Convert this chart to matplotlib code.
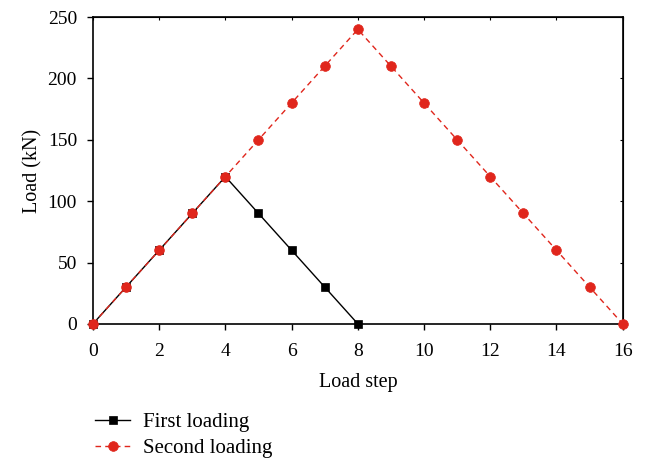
import matplotlib
matplotlib.use("Agg")
import matplotlib.pyplot as plt

plt.rcParams['font.family'] = ['Liberation Serif', 'DejaVu Serif']

steps_first = [0, 1, 2, 3, 4, 5, 6, 7, 8]
load_first = [0, 30, 60, 90, 120, 90, 60, 30, 0]
steps_second = [0, 1, 2, 3, 4, 5, 6, 7, 8, 9, 10, 11, 12, 13, 14, 15, 16]
load_second = [0, 30, 60, 90, 120, 150, 180, 210, 240, 210, 180, 150, 120, 90, 60, 30, 0]
x_ticks = [0, 2, 4, 6, 8, 10, 12, 14, 16]
y_ticks = [0, 50, 100, 150, 200, 250]

fig = plt.figure(figsize=(6.5, 4.62), dpi=100)
ax = fig.add_axes([0.143, 0.299, 0.815, 0.664])

red = '#e0261c'
l1, = ax.plot(steps_first, load_first, color='black', lw=1.0, marker='s',
              markersize=5.5, markeredgewidth=0.5, label='First loading',
              zorder=3, clip_on=False)
l2, = ax.plot(steps_second, load_second, color=red, lw=1.0, ls=(0, (4, 3)),
              marker='o', markersize=7, markeredgewidth=0.5,
              label='Second loading', zorder=4, clip_on=False)

ax.set_xlim(0, 16)
ax.set_ylim(0, 250)
ax.set_xticks(x_ticks)
ax.set_yticks(y_ticks)
ax.tick_params(axis='both', which='major', direction='out', length=4.5, width=1,
               labelsize=14, top=False, right=False)
ax.tick_params(axis='x', pad=9.5)
ax.tick_params(axis='y', pad=7)
for s in ax.spines.values():
    s.set_linewidth(1.2)

# short inward ticks on the top and right spines
ax_top = ax.secondary_xaxis('top')
ax_top.set_xticks(x_ticks)
ax_top.tick_params(direction='in', length=2, labeltop=False)
ax_right = ax.secondary_yaxis('right')
ax_right.set_yticks(y_ticks)
ax_right.tick_params(direction='in', length=2, labelright=False)

ax.set_xlabel('Load step', fontsize=14.5, labelpad=9)
ax.set_ylabel('Load (kN)', fontsize=14.5, labelpad=4)

fig.legend(handles=[l1, l2], loc='lower left', bbox_to_anchor=(0.118, -0.032),
           frameon=False, fontsize=15, handlelength=1.65, handletextpad=0.62,
           labelspacing=0.3)

fig.savefig('out.png', dpi=100)
